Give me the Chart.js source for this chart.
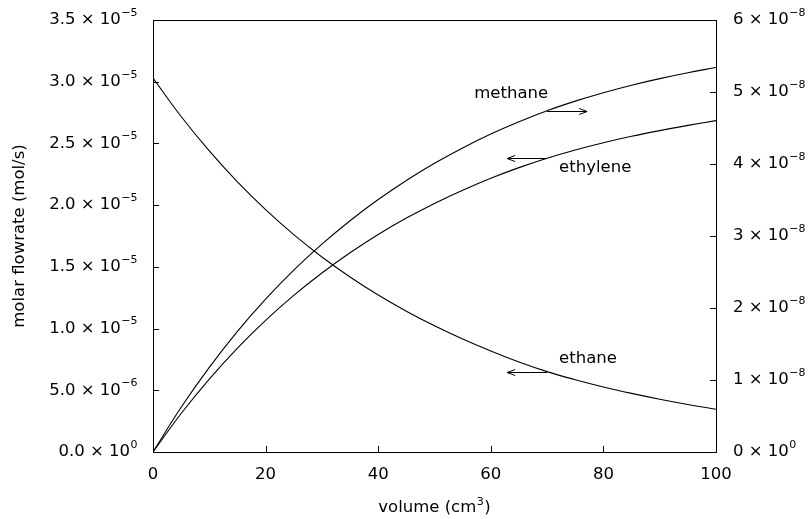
<!DOCTYPE html>
<html><head><meta charset="utf-8">
<script src="https://cdn.jsdelivr.net/npm/chart.js@4/dist/chart.umd.min.js"></script>
<style>html,body{margin:0;padding:0;background:#fff}#wrap{width:810px;height:519px}</style>
</head><body><div id="wrap"><canvas id="c" width="810" height="519"></canvas></div>
<script>
const volume = [0,5,10,15,20,25,30,35,40,45,50,55,60,65,70,75,80,85,90,95,100];
// ethane, ethylene in units of 1e-5 mol/s (left axis)
const ethane = [3.030,2.718,2.439,2.188,1.963,1.761,1.580,1.418,1.272,1.141,1.022,0.915,0.818,0.729,0.651,0.586,0.527,0.475,0.428,0.385,0.346];
const ethylene = [0,0.312,0.591,0.842,1.067,1.269,1.450,1.614,1.762,1.895,2.014,2.121,2.218,2.304,2.380,2.447,2.506,2.558,2.604,2.646,2.685];
// methane in units of 1e-8 mol/s (right axis)
const methane = [0,0.621,1.176,1.676,2.123,2.525,2.886,3.212,3.506,3.772,4.010,4.223,4.415,4.586,4.740,4.873,4.990,5.094,5.186,5.268,5.341];
const xTicks = [0,20,40,60,80,100];
const leftTicks = [0,0.5,1.0,1.5,2.0,2.5,3.0,3.5];   // x 1e-5
const rightTicks = [0,1,2,3,4,5,6];                  // x 1e-8
const labels = [
  {text:'methane', x:70, y:4.74, axis:'y2', dir:1, tx:1, ty:-18, align:'right'},
  {text:'ethylene', x:70, y:2.38, axis:'y', dir:-1, tx:12, ty:9, align:'left'},
  {text:'ethane', x:70, y:0.651, axis:'y', dir:-1, tx:12, ty:-14, align:'left'}
];

const FONT = '"DejaVu Sans", sans-serif';
const TXT = 16.5;

const toXY = a => a.map((v,i)=>({x:volume[i], y:v}));

function drawSci(ctx, mant, exp, x, y, align){
  const main = mant + ' × 10';
  ctx.font = TXT+'px '+FONT;
  const wm = ctx.measureText(main).width;
  ctx.font = '11px '+FONT;
  const we = ctx.measureText(exp).width;
  const x0 = align==='right' ? x - wm - we : x;
  ctx.textAlign='left'; ctx.textBaseline='middle';
  ctx.font = TXT+'px '+FONT;
  ctx.fillText(main, x0, y);
  ctx.font = '11px '+FONT;
  ctx.fillText(exp, x0+wm+0.5, y-7);
}

const frame = {
  id:'frame',
  afterDraw(chart){
    const {ctx, chartArea:a, scales} = chart;
    ctx.save();
    ctx.strokeStyle='#000'; ctx.lineWidth=1; ctx.fillStyle='#000';
    ctx.strokeRect(Math.round(a.left)+0.5, Math.round(a.top)+0.5, Math.round(a.right-a.left), Math.round(a.bottom-a.top));
    ctx.beginPath();
    const L=6;
    xTicks.forEach(v=>{const px=Math.round(scales.x.getPixelForValue(v))+0.5; ctx.moveTo(px,a.bottom); ctx.lineTo(px,a.bottom-L);});
    leftTicks.forEach(v=>{const py=Math.round(scales.y.getPixelForValue(v))+0.5; ctx.moveTo(a.left,py); ctx.lineTo(a.left+L,py);});
    rightTicks.forEach(v=>{const py=Math.round(scales.y2.getPixelForValue(v))+0.5; ctx.moveTo(a.right,py); ctx.lineTo(a.right-L,py);});
    ctx.stroke();
    // tick labels with superscript exponents
    leftTicks.forEach(v=>{
      const py = scales.y.getPixelForValue(v);
      let mant, exp;
      if (v===0){ mant='0.0'; exp='0'; }
      else if (v>=1){ mant=v.toFixed(1); exp='−5'; }
      else { mant=(v*10).toFixed(1); exp='−6'; }
      drawSci(ctx, mant, exp, a.left-16, py, 'right');
    });
    rightTicks.forEach(v=>{
      const py = scales.y2.getPixelForValue(v);
      drawSci(ctx, String(v), v===0?'0':'−8', a.right+17, py, 'left');
    });
    // x axis title with superscript
    {
      const p1='volume (cm', p2='3', p3=')';
      ctx.textBaseline='middle'; ctx.textAlign='left';
      ctx.font = TXT+'px '+FONT; const w1=ctx.measureText(p1).width, w3=ctx.measureText(p3).width;
      ctx.font = '11px '+FONT; const w2=ctx.measureText(p2).width;
      const cx=(a.left+a.right)/2, y=508;
      let x0 = cx - (w1+w2+w3+1)/2;
      ctx.font = TXT+'px '+FONT; ctx.fillText(p1, x0, y);
      ctx.font = '11px '+FONT; ctx.fillText(p2, x0+w1+0.5, y-6);
      ctx.font = TXT+'px '+FONT; ctx.fillText(p3, x0+w1+w2+1, y);
    }
    // annotations
    ctx.font = TXT+'px '+FONT; ctx.textBaseline='middle';
    labels.forEach(l=>{
      const px = scales.x.getPixelForValue(l.x), py = Math.round(scales[l.axis].getPixelForValue(l.y))+0.5;
      const ex = px + l.dir*40;
      ctx.beginPath(); ctx.moveTo(px,py); ctx.lineTo(ex,py);
      ctx.moveTo(ex - l.dir*8, py-3); ctx.lineTo(ex,py); ctx.lineTo(ex - l.dir*8, py+3);
      ctx.stroke();
      ctx.textAlign = l.align;
      ctx.fillText(l.text, px + l.tx, py + l.ty);
    });
    ctx.restore();
  }
};

new Chart(document.getElementById('c'), {
  type:'line',
  data:{datasets:[
    {label:'ethane', data:toXY(ethane), yAxisID:'y'},
    {label:'ethylene', data:toXY(ethylene), yAxisID:'y'},
    {label:'methane', data:toXY(methane), yAxisID:'y2'}
  ].map(d=>Object.assign(d,{borderColor:'#000', borderWidth:1.1, pointRadius:0, tension:0.4, fill:false}))},
  options:{
    responsive:false, animation:false, maintainAspectRatio:false,
    layout:{padding:{top:20, right:0, left:0, bottom:0}},
    plugins:{legend:{display:false}, tooltip:{enabled:false}},
    scales:{
      x:{type:'linear', min:0, max:100,
        afterBuildTicks(s){ s.ticks = xTicks.map(v=>({value:v})); },
        afterFit(s){ s.height = 67; },
        grid:{drawOnChartArea:false, drawTicks:false}, border:{display:false},
        ticks:{padding:13, color:'#000', font:{family:FONT,size:TXT}, maxRotation:0},
        title:{display:false}
      },
      y:{type:'linear', position:'left', min:0, max:3.5,
        afterBuildTicks(s){ s.ticks = leftTicks.map(v=>({value:v})); },
        afterFit(s){ s.width = 153; },
        grid:{drawOnChartArea:false, drawTicks:false}, border:{display:false},
        ticks:{display:false},
        title:{display:true, text:'molar flowrate (mol/s)', color:'#000', font:{family:FONT,size:TXT}, padding:{top:10,bottom:0}}
      },
      y2:{type:'linear', position:'right', min:0, max:6,
        afterBuildTicks(s){ s.ticks = rightTicks.map(v=>({value:v})); },
        afterFit(s){ s.width = 94; },
        grid:{drawOnChartArea:false, drawTicks:false}, border:{display:false},
        ticks:{display:false}
      }
    }
  },
  plugins:[frame]
});
</script></body></html>
